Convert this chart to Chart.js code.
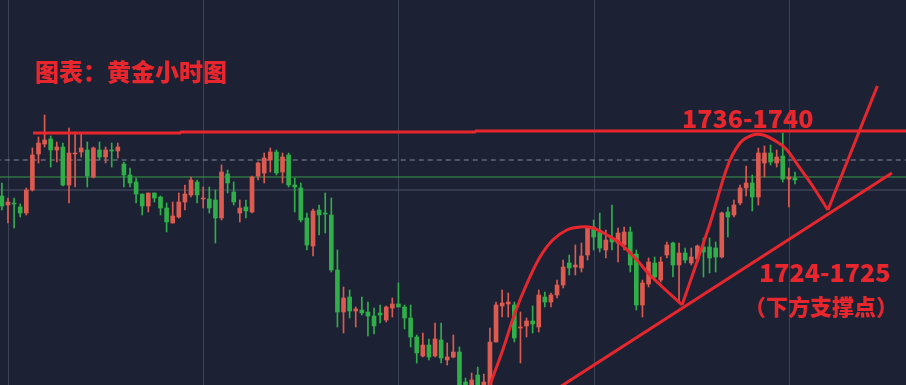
<!DOCTYPE html>
<html>
<head>
<meta charset="utf-8">
<script src="https://cdn.jsdelivr.net/npm/chart.js"></script>
<style>
  html, body { margin: 0; padding: 0; background: #1c2233; }
  canvas { display: block; }
</style>
</head>
<body>
<canvas id="chart" width="906" height="385"></canvas>
<script>
// hourly gold candles, index 0..130
const opens = [
  1731.4, 1730.5, 1730.7, 1730.3, 1729.7, 1732.0, 1735.6, 1736.6, 1737.1, 1736.0,
  1736.3, 1732.5, 1735.6, 1735.8, 1736.0, 1733.3, 1736.0, 1735.3, 1736.0, 1735.9,
  1734.6, 1733.5, 1732.8, 1731.6, 1730.4, 1731.7, 1731.3, 1730.2, 1728.7, 1729.3,
  1730.8, 1731.5, 1732.8, 1731.1, 1731.1, 1731.0, 1729.2, 1733.6, 1731.8, 1729.7,
  1730.3, 1729.8, 1733.4, 1733.7, 1735.0, 1735.8, 1733.8, 1735.5, 1732.5, 1732.2,
  1729.2, 1726.4, 1730.0, 1729.7, 1729.5, 1724.0, 1719.8, 1721.3, 1719.9, 1720.0,
  1719.8, 1719.4, 1719.7, 1719.0, 1720.2, 1720.6, 1720.3, 1719.2, 1717.3, 1715.4,
  1716.5, 1715.4, 1717.0, 1715.0, 1715.3, 1715.8, 1712.8, 1711.5, 1713.5, 1711.5,
  1711.5, 1716.8, 1720.4, 1720.6, 1720.5, 1718.2, 1718.4, 1718.9, 1718.3, 1721.3,
  1720.8, 1721.5, 1722.5, 1724.7, 1724.3, 1724.2, 1725.5, 1728.3, 1727.8, 1726.0,
  1727.2, 1726.7, 1726.5, 1727.8, 1725.6, 1720.5, 1722.6, 1724.7, 1723.0, 1725.5,
  1726.7, 1724.5, 1725.7, 1724.7, 1725.1, 1726.3, 1726.3, 1726.2, 1725.3, 1729.8,
  1729.5, 1730.7, 1732.2, 1732.7, 1731.3, 1734.7, 1735.7, 1734.7, 1735.4, 1733.1,
  1733.2
];
const highs = [
  1732.7, 1731.2, 1731.2, 1730.6, 1732.2, 1736.2, 1737.3, 1739.5, 1737.4, 1736.8,
  1736.7, 1738.2, 1737.8, 1737.7, 1736.8, 1736.3, 1736.8, 1736.3, 1736.7, 1736.7,
  1734.8, 1734.2, 1733.2, 1731.6, 1731.7, 1731.7, 1731.4, 1730.7, 1730.8, 1731.7,
  1732.5, 1733.3, 1733.0, 1732.3, 1732.3, 1732.0, 1734.5, 1734.0, 1732.8, 1731.0,
  1731.0, 1733.4, 1734.8, 1735.7, 1736.2, 1736.0, 1735.7, 1735.7, 1733.2, 1732.7,
  1729.7, 1730.1, 1730.5, 1731.7, 1731.2, 1726.0, 1722.3, 1722.0, 1720.3, 1721.3,
  1720.8, 1720.2, 1720.5, 1720.4, 1721.2, 1722.7, 1720.5, 1720.5, 1717.5, 1717.7,
  1717.1, 1718.7, 1718.7, 1716.7, 1717.5, 1716.3, 1713.2, 1713.7, 1714.3, 1713.6,
  1718.2, 1720.8, 1722.0, 1721.7, 1720.8, 1719.8, 1719.2, 1720.4, 1722.0, 1721.8,
  1721.7, 1723.0, 1725.0, 1725.5, 1726.5, 1726.7, 1728.3, 1729.0, 1729.7, 1728.0,
  1730.5, 1728.2, 1728.3, 1728.3, 1726.0, 1723.0, 1725.2, 1725.3, 1725.3, 1726.8,
  1726.8, 1726.7, 1726.2, 1726.2, 1726.5, 1727.2, 1727.2, 1726.8, 1729.8, 1730.3,
  1731.0, 1732.5, 1734.4, 1733.5, 1736.2, 1736.4, 1736.5, 1736.0, 1737.7, 1734.2,
  1733.8
];
const lows = [
  1730.0, 1728.7, 1728.2, 1729.3, 1729.5, 1731.9, 1734.7, 1736.3, 1734.3, 1734.8,
  1732.4, 1730.7, 1732.3, 1735.3, 1732.3, 1733.2, 1735.0, 1734.7, 1734.3, 1735.2,
  1732.3, 1732.3, 1730.7, 1729.5, 1729.8, 1730.8, 1729.5, 1727.8, 1728.7, 1729.2,
  1730.0, 1731.3, 1730.7, 1730.2, 1729.7, 1726.7, 1729.0, 1731.7, 1730.5, 1728.8,
  1729.2, 1729.7, 1733.0, 1732.7, 1733.8, 1733.5, 1732.7, 1732.3, 1729.8, 1728.8,
  1726.0, 1725.4, 1727.5, 1727.7, 1723.8, 1718.3, 1717.7, 1719.2, 1718.3, 1719.5,
  1717.4, 1717.6, 1718.7, 1718.8, 1719.3, 1720.3, 1718.1, 1716.3, 1714.7, 1715.3,
  1715.0, 1715.3, 1714.7, 1714.5, 1715.2, 1711.2, 1711.0, 1711.0, 1710.8, 1711.0,
  1711.2, 1716.8, 1719.3, 1719.3, 1716.8, 1714.7, 1717.3, 1717.7, 1717.8, 1720.3,
  1720.3, 1721.2, 1722.2, 1723.5, 1723.5, 1723.8, 1725.0, 1726.0, 1725.8, 1725.2,
  1726.0, 1724.8, 1726.0, 1723.8, 1720.0, 1719.3, 1722.3, 1723.0, 1722.8, 1725.2,
  1723.3, 1720.7, 1724.7, 1724.5, 1724.8, 1723.3, 1723.7, 1723.8, 1725.2, 1727.3,
  1729.3, 1730.5, 1731.4, 1729.9, 1730.5, 1733.3, 1734.5, 1734.3, 1732.8, 1730.3,
  1732.6
];
const closes = [
  1730.4, 1730.8, 1730.6, 1729.7, 1732.0, 1735.5, 1736.7, 1737.0, 1736.0, 1736.3,
  1732.5, 1735.7, 1735.7, 1736.2, 1733.4, 1736.2, 1735.3, 1736.0, 1735.9, 1736.3,
  1733.5, 1732.7, 1731.6, 1730.4, 1731.7, 1731.2, 1730.2, 1728.8, 1729.4, 1730.8,
  1731.6, 1733.0, 1731.5, 1731.2, 1730.2, 1729.2, 1733.8, 1732.7, 1730.8, 1730.2,
  1729.9, 1733.3, 1734.7, 1735.2, 1735.8, 1733.7, 1735.3, 1732.5, 1732.3, 1729.0,
  1726.5, 1729.9, 1729.5, 1729.6, 1724.0, 1719.8, 1721.2, 1719.9, 1720.1, 1719.7,
  1719.4, 1718.4, 1719.5, 1720.3, 1720.6, 1720.3, 1719.2, 1717.3, 1715.7, 1716.5,
  1715.3, 1717.1, 1715.2, 1715.3, 1715.8, 1711.5, 1711.8, 1713.0, 1711.5, 1712.8,
  1716.8, 1720.5, 1720.7, 1720.8, 1717.2, 1718.3, 1718.9, 1718.6, 1721.5, 1720.8,
  1721.5, 1722.5, 1724.3, 1724.2, 1724.5, 1725.4, 1728.2, 1727.3, 1726.2, 1727.0,
  1726.8, 1727.7, 1727.8, 1724.5, 1720.5, 1722.7, 1724.8, 1723.3, 1724.8, 1726.5,
  1724.5, 1725.7, 1725.0, 1725.3, 1726.4, 1725.8, 1725.2, 1725.3, 1729.7, 1729.3,
  1730.5, 1732.2, 1732.7, 1731.3, 1735.7, 1735.7, 1734.8, 1735.3, 1733.1, 1733.3,
  1733.0
];

// vertical grid positions (candle index) and horizontal marker prices
const gridX = [1, 33, 65, 97, 129];
const dashedPrice = 1735.0;
const lastPrice = 1733.3;
const gridPrice = 1732.0;

// hand-drawn annotation strokes: [candle index, price]
const resistLine = [[5.1, 1737.7], [29.2, 1737.7], [29.4, 1737.8], [77.5, 1737.8], [77.7, 1737.9], [149, 1737.9]];
const arcOne = [[80.0, 1712.5], [82.1, 1716.0], [84.1, 1719.7], [86.1, 1722.7], [88.2, 1725.3], [90.3, 1727.0],
  [92.6, 1728.0], [94.8, 1728.3], [96.9, 1728.2], [99.2, 1727.5], [101.3, 1726.7], [104.1, 1725.0],
  [106.2, 1723.5], [111.5, 1720.5]];
const arcTwo = [[111.5, 1720.5], [116.1, 1728.7], [118.9, 1734.3], [121.0, 1736.7], [123.1, 1737.5],
  [124.8, 1737.5], [127.1, 1736.8], [128.7, 1736.0], [130.8, 1734.2], [133.0, 1732.3], [135.4, 1730.0]];
const breakout = [[135.4, 1730.0], [143.5, 1742.4]];
const supportLine = [[90.7, 1712.0], [145.9, 1733.7]];

const RED = '#e8262e';
const UP = '#dc5a50';
const DOWN = '#2fae4a';

const idx = opens.map((_, i) => i);
const candleColor = (ctx) => {
  const i = ctx.dataIndex;
  return closes[i] >= opens[i] ? UP : DOWN;
};
const pts = (arr) => arr.map(p => ({ x: p[0], y: p[1] }));
const flat = (price) => [{ x: -1, y: price }, { x: 149, y: price }];

const stroke = (data, tension) => ({
  type: 'line',
  data: pts(data),
  borderColor: RED,
  borderWidth: 3,
  pointRadius: 0,
  tension: tension,
  order: 1
});

const backdrop = {
  id: 'backdrop',
  beforeDraw(chart) {
    const { ctx, chartArea, scales } = chart;
    ctx.save();
    ctx.fillStyle = '#1c2233';
    ctx.fillRect(0, 0, chart.width, chart.height);
    ctx.strokeStyle = '#3b4357';
    ctx.lineWidth = 1;
    gridX.forEach(v => {
      const x = Math.round(scales.x.getPixelForValue(v)) + 0.5;
      ctx.beginPath();
      ctx.moveTo(x, chartArea.top);
      ctx.lineTo(x, chartArea.bottom);
      ctx.stroke();
    });
    ctx.restore();
  }
};

const notes = {
  id: 'notes',
  afterDatasetsDraw(chart) {
    const ctx = chart.ctx;
    ctx.save();
    ctx.fillStyle = RED;
    ctx.textBaseline = 'middle';
    ctx.textAlign = 'left';
    ctx.font = '900 24px "Noto Sans CJK SC"';
    ctx.fillText('图表：黄金小时图', 35, 72);
    ctx.font = '900 25px "Noto Sans CJK SC"';
    ctx.fillText('1736-1740', 682, 118);
    ctx.fillText('1724-1725', 759, 272);
    ctx.font = '900 22px "Noto Sans CJK SC"';
    ctx.fillText('（下方支撑点）', 744, 307);
    ctx.restore();
  }
};

new Chart(document.getElementById('chart'), {
  type: 'bar',
  data: {
    datasets: [
      {
        type: 'line', data: flat(gridPrice), borderColor: '#4b5269', borderWidth: 1,
        pointRadius: 0, order: 10
      },
      {
        type: 'line', data: flat(dashedPrice), borderColor: '#858a99', borderWidth: 1,
        borderDash: [5, 4], pointRadius: 0, order: 10
      },
      {
        type: 'line', data: flat(lastPrice), borderColor: '#3a9a48', borderWidth: 1,
        pointRadius: 0, order: 10
      },
      {
        data: idx.map(i => ({ x: i, y: [lows[i], highs[i]] })),
        backgroundColor: candleColor,
        barThickness: 1,
        grouped: false,
        order: 5
      },
      {
        data: idx.map(i => ({ x: i, y: [opens[i], closes[i]] })),
        backgroundColor: candleColor,
        barThickness: 4,
        minBarLength: 1,
        grouped: false,
        order: 4
      },
      stroke(resistLine, 0),
      stroke(arcOne, 0.3),
      stroke(arcTwo, 0.3),
      stroke(breakout, 0),
      stroke(supportLine, 0)
    ]
  },
  options: {
    responsive: false,
    animation: false,
    layout: { padding: 0 },
    scales: {
      x: { type: 'linear', min: -0.31, max: 148.2, offset: false, display: false },
      y: { min: 1712.5, max: 1751, display: false }
    },
    plugins: {
      legend: { display: false },
      tooltip: { enabled: false }
    }
  },
  plugins: [backdrop, notes]
});
</script>
</body>
</html>
